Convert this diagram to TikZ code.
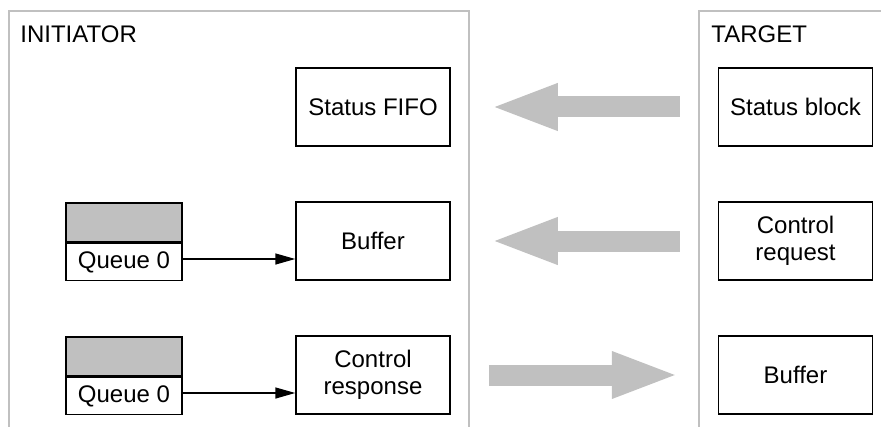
\documentclass[tikz,border=0pt]{standalone}
\usepackage{fontspec}
\setmainfont{Liberation Sans}
\usetikzlibrary{arrows.meta}

\definecolor{silver}{HTML}{C0C0C0}

\begin{document}
\begin{tikzpicture}[x=0.5pt, y=-0.5pt,
  blk/.style={draw, line width=0.75pt, minimum width=77pt, minimum height=39pt,
    inner sep=0pt, align=center, font=\fontsize{12}{13.5}\selectfont},
  qtop/.style={draw, fill=silver, line width=0.75pt, minimum width=58pt,
    minimum height=19.5pt, inner sep=0pt},
  qbot/.style={draw, fill=white, line width=0.75pt, minimum width=58pt,
    minimum height=18.5pt, inner sep=0pt, font=\fontsize{12}{13.5}\selectfont},
  frame/.style={draw=silver, line width=1pt},
  fat/.style={draw=silver, line width=10.5pt, line cap=butt,
    -{Triangle[length=34pt, width=21pt]}},
  thin/.style={line width=0.75pt, -{Triangle[length=10pt, width=5.5pt]}}]

  \newcommand\Row{134};
  \newcommand\Top{107};

  \useasboundingbox (0,0) rectangle (881,427); %% positioning

  %% frames
  \draw[frame] (9,427) -- (9,11) -- (469,11) -- (469,427);
  \draw[frame] (699,427) -- (699,11) -- (881,11);
  \node[anchor=base west, inner sep=0pt, font=\fontsize{12}{13.5}\selectfont]
    (init) at (20,43) {INITIATOR};
  \node[anchor=base west, inner sep=0pt, font=\fontsize{12}{13.5}\selectfont]
    (targ) at (711,43) {TARGET};

  %% initiator side
  \node[blk] (fifo) at (373, \Top) {Status FIFO};
  \node[blk] (ibuf) at (373, \Top+\Row) {Buffer};
  \node[blk] (resp) at (373, \Top+2*\Row) {Control\\response};

  \node[qtop] (qa) at (124, 222.5) {};
  \node[qbot, anchor=north] (qa0) at (qa.south) {Queue 0};
  \node[qtop] (qb) at (124, 222.5+\Row) {};
  \node[qbot, anchor=north] (qb0) at (qb.south) {Queue 0};

  \draw[thin] ([yshift=1.5pt]qa0.east) -- ([yshift=1.5pt]qa0.east -| ibuf.west);
  \draw[thin] ([yshift=1.5pt]qb0.east) -- ([yshift=1.5pt]qb0.east -| resp.west);

  %% target side
  \node[blk] (stat) at (795.5, \Top) {Status block};
  \node[blk] (req)  at (795.5, \Top+\Row) {Control\\request};
  \node[blk] (tbuf) at (795.5, \Top+2*\Row) {Buffer};

  %% transfers
  \draw[fat] ([xshift=-19pt]stat.west) -- ([xshift=19.5pt]fifo.east);
  \draw[fat] ([xshift=-19pt]req.west) -- ([xshift=19.5pt]ibuf.east);
  \draw[fat] ([xshift=19pt]resp.east) -- ([xshift=-19pt]tbuf.west);

\end{tikzpicture}
\end{document}
